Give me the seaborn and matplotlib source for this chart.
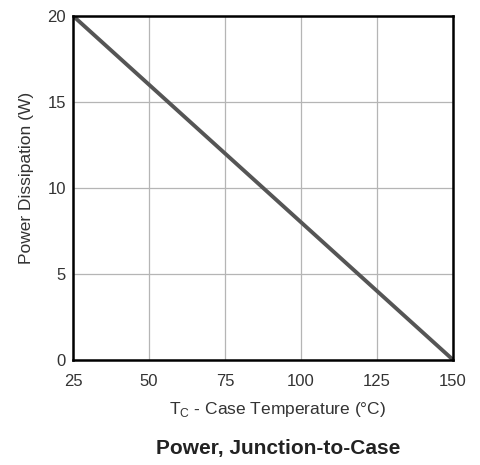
import numpy as np
import pandas as pd
import seaborn as sns
import matplotlib.pyplot as plt

# ---------- data ----------
case_temp = [25, 150]          # T_C (°C)
power_w = [20, 0]              # power dissipation (W)
x_ticks = [25, 50, 75, 100, 125, 150]
y_ticks = [0, 5, 10, 15, 20]

df = pd.DataFrame({"Tc": case_temp, "P": power_w})

sns.set_style("white")
plt.rcParams["font.family"] = ["Liberation Sans", "DejaVu Sans"]

fig = plt.figure(figsize=(4.8, 4.65), dpi=100)
ax = fig.add_axes([0.152, 0.226, 0.792, 0.740])

sns.lineplot(data=df, x="Tc", y="P", ax=ax, color="#555555", linewidth=2.8)

ax.set_xlim(25, 150)
ax.set_ylim(0, 20)
ax.set_xticks(x_ticks)
ax.set_yticks(y_ticks)
ax.grid(True, color="#b5b5b5", linewidth=0.9)
ax.tick_params(length=0, labelsize=12, colors="#333333")
ax.tick_params(axis="x", pad=10)
ax.tick_params(axis="y", pad=5)
for s in ax.spines.values():
    s.set_color("black")
    s.set_linewidth(1.8)

ax.set_xlabel("T$_\\mathregular{C}$ - Case Temperature (°C)", fontsize=12.5, color="#333333", labelpad=8)
ax.set_ylabel("Power Dissipation (W)", fontsize=12.5, color="#333333", labelpad=10)
ax.xaxis.label.set_x(0.537)
ax.yaxis.label.set_y(0.53)

# bottom caption, slightly right of the axes centre like the original
fig.text(278 / 480, 1 - 448 / 465, "Power, Junction-to-Case",
         ha="center", va="center", fontsize=15, fontweight="bold", color="#222222")

fig.savefig("out.png", dpi=100)
